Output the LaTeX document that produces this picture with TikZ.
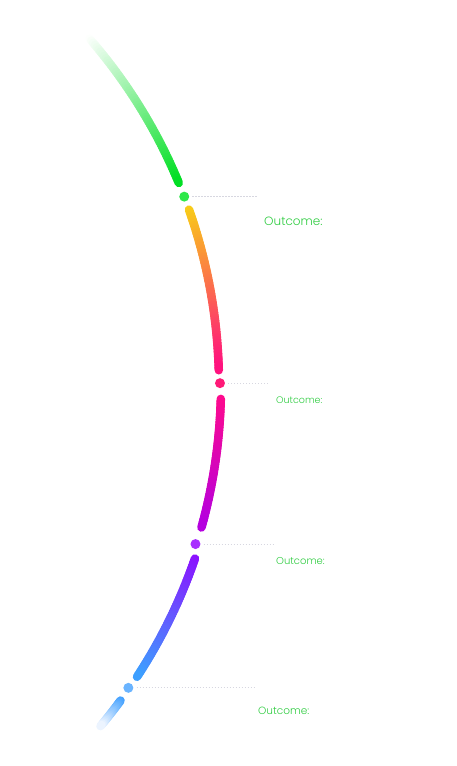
\documentclass[tikz,border=0pt]{standalone}
\usepackage{fontspec}
\setmainfont{Poppins Light}
\usetikzlibrary{calc}
\definecolor{gA}{RGB}{255,255,255}
\definecolor{gB}{RGB}{0,222,34}
\definecolor{yA}{RGB}{248,206,24}
\definecolor{pB}{RGB}{255,16,128}
\definecolor{pC}{RGB}{255,10,140}
\definecolor{vC}{RGB}{180,0,224}
\definecolor{vD}{RGB}{140,16,255}
\definecolor{bD}{RGB}{60,160,255}
\definecolor{bE}{RGB}{64,160,255}
\definecolor{wE}{RGB}{240,246,255}
\definecolor{dotG}{RGB}{46,232,74}
\definecolor{dotP}{RGB}{255,26,120}
\definecolor{dotV}{RGB}{168,48,255}
\definecolor{dotB}{RGB}{106,180,255}
\definecolor{txtG}{RGB}{46,204,64}
\definecolor{leadC}{RGB}{215,215,224}
\newcommand\gradarc[6]{%
  \foreach \i in {1,...,#5}{%
    \pgfmathsetmacro\aa{#1+(#2-#1)*(\i-1)/#5}%
    \pgfmathsetmacro\ab{#1+(#2-#1)*\i/#5}%
    \pgfmathsetmacro\pp{100*(\i-0.5)/#5}%
    \draw[seg, color=#4!\pp!#3] ($(C)+(\aa:#6)$) arc[start angle=\aa, end angle=\ab, radius=#6];
  }}
\tikzset{
  seg/.style={line width=8.5pt, line cap=round},
  dotnode/.style={circle, inner sep=0pt, minimum size=10pt, draw=none},
  leader/.style={leadC, line width=1pt, dash pattern=on 1.2pt off 1.8pt},
  outlbl/.style={anchor=west, inner sep=0pt, text=txtG}
}
\begin{document}
\begin{tikzpicture}[x=1pt,y=1pt]
\useasboundingbox (0,0) rectangle (457,766);
\coordinate (C) at (-309,381);
% segments
\gradarc{41}{22.5}{gA}{gB}{60}{528}
\gradarc{19.4}{1.6}{yA}{pB}{60}{528}
\gradarc{-1.5}{-15.6}{pC}{vC}{50}{530}
\gradarc{-19}{-33.2}{vD}{bD}{50}{533}
\gradarc{-36.3}{-39.8}{bE}{wE}{20}{533}
% dots
\node[dotnode, fill=dotG] (d1) at ($(C)+(20.9:528)$) {};
\node[dotnode, fill=dotP] (d2) at ($(C)+(0.2:529)$) {};
\node[dotnode, fill=dotV] (d3) at ($(C)+(-17.5:529)$) {};
\node[dotnode, fill=dotB] (d4) at ($(C)+(-34.7:532)$) {};
% leader ends
\coordinate (e1) at (258,569);
\coordinate (e2) at (270,384);
\coordinate (e3) at (275,223);
\coordinate (e4) at (255,78);
\draw[leader] ($(d1.east)+(3,0)$) -- (d1.east -| e1);
\draw[leader] ($(d2.east)+(3,0)$) -- (d2.east -| e2);
\draw[leader] ($(d3.east)+(3,0)$) -- (d3.east -| e3);
\draw[leader] ($(d4.east)+(3,0)$) -- (d4.east -| e4);
% labels
\node[outlbl, font=\fontsize{12}{14}\selectfont] (t1) at (264,545) {Outcome:};
\node[outlbl, font=\fontsize{9.5}{11}\selectfont] (t2) at (276,366) {Outcome:};
\node[outlbl, font=\fontsize{10}{12}\selectfont] (t3) at (276,205) {Outcome:};
\node[outlbl, font=\fontsize{10.5}{12}\selectfont] (t4) at (258,55) {Outcome:};
\end{tikzpicture}
\end{document}
